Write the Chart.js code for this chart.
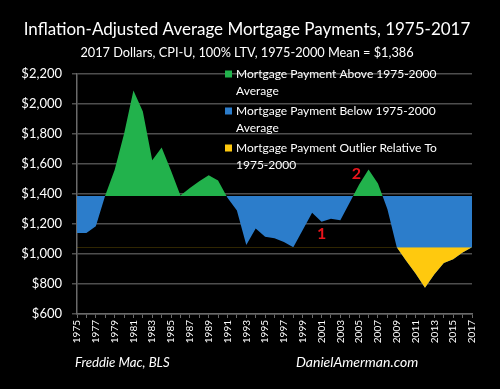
<!DOCTYPE html>
<html>
<head>
<meta charset="utf-8">
<script src="https://cdn.jsdelivr.net/npm/chart.js@4.4.1/dist/chart.umd.min.js"></script>
<style>
  html, body { margin: 0; padding: 0; background: #000; }
  #grafico { display: block; }
</style>
</head>
<body>
<canvas id="grafico" width="500" height="389"></canvas>
<script>
// Datos
const anios = ['1975','1976','1977','1978','1979','1980','1981','1982','1983','1984',
  '1985','1986','1987','1988','1989','1990','1991','1992','1993','1994',
  '1995','1996','1997','1998','1999','2000','2001','2002','2003','2004',
  '2005','2006','2007','2008','2009','2010','2011','2012','2013','2014',
  '2015','2016','2017'];
const pagos = [1140, 1140, 1185, 1390, 1560, 1800, 2090, 1950, 1625, 1710,
  1555, 1390, 1440, 1485, 1525, 1490, 1375, 1290, 1060, 1170,
  1115, 1105, 1080, 1045, 1160, 1275, 1215, 1235, 1225, 1344,
  1464, 1564, 1470, 1300, 1045, 955, 870, 775, 865, 940,
  965, 1010, 1045];
const media = 1386;
const umbralAtipico = 1045;
const ejeYMin = 600;
const ejeYMax = 2200;
const ejeYPaso = 200;

const titulo = 'Inflation-Adjusted Average Mortgage Payments, 1975-2017';
const subtitulo = '2017 Dollars, CPI-U, 100% LTV, 1975-2000 Mean = $1,386';
const fuenteIzq = 'Freddie Mac, BLS';
const fuenteDer = 'DanielAmerman.com';

const leyendaTextos = [
  ['Mortgage Payment Above 1975-2000', 'Average'],
  ['Mortgage Payment Below 1975-2000', 'Average'],
  ['Mortgage Payment Outlier Relative To', '1975-2000']
];
const verde = '#22B24C';
const azul = '#2C7DCB';
const amarillo = '#FFC90E';
const leyendaColores = [verde, azul, amarillo];

// Notas rojas (en unidades de datos: anio, valor)
const notasTexto = ['1', '2'];
const notasAnio = [2001, 2004.7];
const notasValor = [1133, 1533];

Chart.defaults.font.family = 'Lato, "Open Sans", sans-serif';
Chart.defaults.color = '#fff';

function ajustarFuente(ctx, texto, tam, estilo, ancho) {
  let t = tam;
  ctx.font = estilo + ' ' + t + 'px Lato, "Open Sans", sans-serif';
  while (ctx.measureText(texto).width > ancho && t > 6) {
    t -= 0.25;
    ctx.font = estilo + ' ' + t + 'px Lato, "Open Sans", sans-serif';
  }
}

const textosExtra = {
  id: 'textosExtra',
  beforeDraw(chart) {
    const ctx = chart.ctx;
    ctx.save();
    ctx.fillStyle = '#000';
    ctx.fillRect(0, 0, chart.width, chart.height);
    ctx.restore();
  },
  afterDraw(chart) {
    const { ctx, chartArea, scales } = chart;
    ctx.save();
    ctx.fillStyle = '#fff';
    ctx.textBaseline = 'alphabetic';
    ctx.textAlign = 'center';

    // Titulo y subtitulo
    ajustarFuente(ctx, titulo, 20, 'normal', 453);
    ctx.fillText(titulo, 247, 35);
    ajustarFuente(ctx, subtitulo, 14.5, 'normal', 339);
    ctx.fillText(subtitulo, 247, 57);

    // Fuentes al pie
    ctx.textAlign = 'left';
    ajustarFuente(ctx, fuenteIzq, 16, 'italic', 95);
    ctx.fillText(fuenteIzq, 75, 367);
    ajustarFuente(ctx, fuenteDer, 16, 'italic', 124);
    ctx.fillText(fuenteDer, 296, 367);

    // Leyenda dentro del area
    ctx.textBaseline = 'middle';
    ajustarFuente(ctx, leyendaTextos[0][0], 14, 'normal', 204);
    leyendaTextos.forEach((lineas, i) => {
      const y = chartArea.top + i * 37;
      const x = chartArea.left + 148;
      ctx.fillStyle = leyendaColores[i];
      ctx.fillRect(x, y - 3.5, 7, 7);
      ctx.fillStyle = '#fff';
      lineas.forEach((linea, j) => {
        ctx.fillText(linea, x + 11, y + j * 17);
      });
    });

    // Notas rojas
    ctx.fillStyle = '#E8141B';
    ctx.font = 'bold 16px Lato, "Open Sans", sans-serif';
    ctx.textAlign = 'center';
    notasTexto.forEach((t, i) => {
      const px = scales.x.getPixelForValue(notasAnio[i] - Number(anios[0]));
      const py = scales.y.getPixelForValue(notasValor[i]);
      ctx.fillText(t, px, py);
    });
    ctx.restore();
  }
};

const ctx = document.getElementById('grafico').getContext('2d');
const grafico = new Chart(ctx, {
  type: 'line',
  data: {
    labels: anios,
    datasets: [
      {
        label: 'Outlier',
        data: pagos,
        borderWidth: 0,
        pointRadius: 0,
        tension: 0,
        order: 0,
        fill: { target: { value: umbralAtipico }, above: 'rgba(0,0,0,0)', below: amarillo }
      },
      {
        label: 'Above / Below',
        data: pagos,
        borderWidth: 0,
        pointRadius: 0,
        tension: 0,
        order: 1,
        fill: { target: { value: media }, above: verde, below: azul }
      }
    ]
  },
  options: {
    responsive: false,
    animation: false,
    layout: { padding: { left: 0, right: 28, top: 74, bottom: 30 } },
    plugins: {
      legend: { display: false },
      tooltip: { enabled: false }
    },
    scales: {
      x: {
        afterFit: (s) => { s.height = 45; },
        grid: { drawOnChartArea: false, drawTicks: true, tickLength: 4, color: '#6a6a6a', lineWidth: 1 },
        border: { color: '#6a6a6a', width: 1.5 },
        ticks: {
          autoSkip: false,
          maxRotation: 90,
          minRotation: 90,
          padding: 2,
          font: { size: 10 },
          color: '#fff',
          callback: function (valor, i) { return i % 2 === 0 ? this.getLabelForValue(valor) : ''; }
        }
      },
      y: {
        min: ejeYMin,
        max: ejeYMax,
        afterFit: (s) => { s.width = 77; },
        grid: { color: '#4e4e4e', lineWidth: 1.5, tickLength: 5 },
        border: { color: '#6a6a6a', width: 1.5 },
        ticks: {
          stepSize: ejeYPaso,
          padding: 10,
          font: { size: 13 },
          color: '#fff',
          callback: (v) => '$' + v.toLocaleString('en-US')
        }
      }
    }
  },
  plugins: [textosExtra]
});
</script>
</body>
</html>
